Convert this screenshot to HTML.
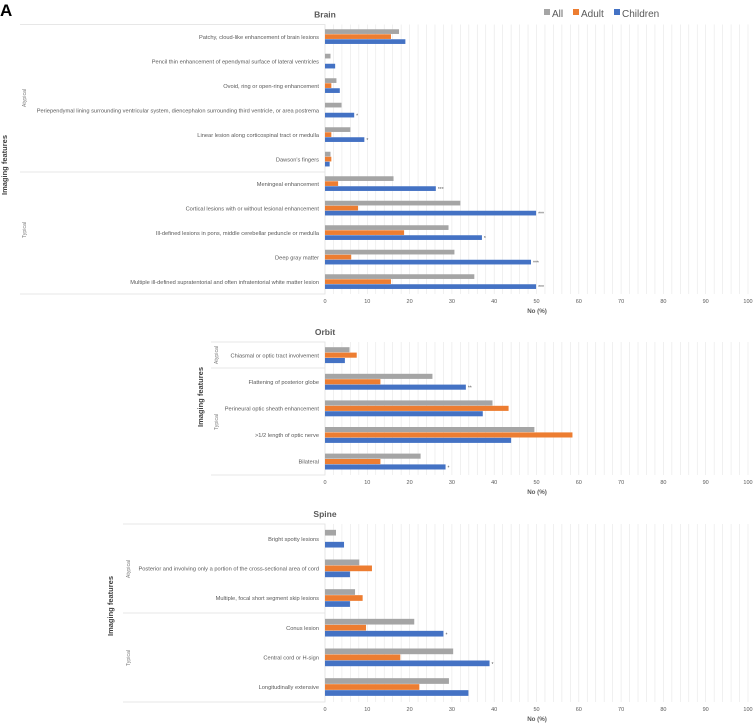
<!DOCTYPE html>
<html><head><meta charset="utf-8"><style>
html,body{margin:0;padding:0;background:#fff;}
svg{display:block;font-family:"Liberation Sans",sans-serif;}
</style></head><body>
<svg id="chart" width="755" height="726" viewBox="0 0 755 726" xmlns="http://www.w3.org/2000/svg">
<text x="0" y="16" font-size="17" font-weight="bold" fill="#000">A</text>
<g>
<rect x="544" y="9" width="6" height="6" fill="#a5a5a5"/>
<text x="552" y="17" font-size="10" fill="#595959">All</text>
<rect x="573" y="9" width="6" height="6" fill="#ed7d31"/>
<text x="581" y="17" font-size="10" fill="#595959">Adult</text>
<rect x="614" y="9" width="6" height="6" fill="#4472c4"/>
<text x="622" y="17" font-size="10" fill="#595959">Children</text>
</g>
</svg>
<script>
const brainCategories=["Patchy, cloud-like enhancement of brain lesions","Pencil thin enhancement of ependymal surface of lateral ventricles","Ovoid, ring or open-ring enhancement","Periependymal lining surrounding ventricular system, diencephalon surrounding third ventricle, or area postrema","Linear lesion along corticospinal tract or medulla","Dawson's fingers","Meningeal enhancement","Cortical lesions with or without lesional enhancement","Ill-defined lesions in pons, middle cerebellar peduncle or medulla","Deep gray matter","Multiple ill-defined supratentorial and often infratentorial white matter lesion"];
const brainAll=[17.5,1.3,2.7,3.9,6.0,1.3,16.2,32.0,29.2,30.6,35.3];
const brainAdult=[15.6,0,1.5,0,1.5,1.5,3.1,7.8,18.7,6.2,15.6];
const brainChildren=[19.0,2.4,3.5,6.9,9.3,1.1,26.2,49.9,37.1,48.7,49.9];
const brainSig=["","","","*","*","","***","***","*","***","***"];
const orbitCategories=["Chiasmal or optic tract involvement","Flattening of posterior globe","Perineural optic sheath enhancement",">1/2 length of optic nerve","Bilateral"];
const orbitAll=[5.8,25.4,39.6,49.5,22.6];
const orbitAdult=[7.5,13.1,43.4,58.5,13.1];
const orbitChildren=[4.7,33.3,37.3,44.0,28.5];
const orbitSig=["","**","","","*"];
const spineCategories=["Bright spotty lesions","Posterior  and involving only a portion of the cross-sectional area of cord","Multiple, focal short segment skip lesions","Conus lesion","Central cord or H-sign","Longitudinally extensive"];
const spineAll=[2.6,8.1,7.1,21.1,30.3,29.3];
const spineAdult=[0,11.1,8.9,9.7,17.8,22.3];
const spineChildren=[4.5,5.9,5.9,28.0,38.9,33.9];
const spineSig=["","","","*","*",""];
const tickLabels=["0","10","20","30","40","50","60","70","80","90","100"];

const NS="http://www.w3.org/2000/svg";
const svg=document.getElementById('chart');
function mk(tag,attrs,parent,text){const e=document.createElementNS(NS,tag);for(const k in attrs)e.setAttribute(k,attrs[k]);if(text!==undefined)e.textContent=text;(parent||svg).appendChild(e);return e;}

function panel(p){
  const g=mk('g',{});
  
  
  const x0=325,x1=748;
  const xs=v=>x0+(x1-x0)*v/100;
  const n=p.cats.length;
  const rowH=(p.bottom-p.top)/n;
  const ys=i=>p.top+rowH*(i+0.5);
  for(let v=2;v<=100;v+=2){
    const l=mk('line',{x1:xs(v),x2:xs(v),y1:p.top,y2:p.bottom,stroke:'#e6e6e6','stroke-width':0.6},g);
    
    
  }
  const box=mk('path',{d:`M${p.boxLeft},${p.top} H${x0} V${p.bottom} H${p.boxLeft} M${p.boxLeft},${p.sep} H${x0}`,fill:'none',stroke:'#e0e0e0','stroke-width':0.8},g);
  
  
  const t=mk('text',{x:x0,y:p.top-7,'font-size':8.5,'font-weight':'bold',fill:'#595959','text-anchor':'middle'},g,p.title);
  
  
  const series=[[p.all,'#a5a5a5','all'],[p.adult,'#ed7d31','adult'],[p.children,'#4472c4','children']];
  for(let i=0;i<n;i++){
    const cy=ys(i);
    const lab=mk('text',{x:319,y:cy+2,'font-size':5.7,fill:'#595959','text-anchor':'end'},g,p.cats[i]);
    
    
    series.forEach((s,k)=>{
      const y=cy-1.5*p.bh+k*p.bh;
      const r=mk('rect',{x:x0,y:y,width:Math.max(0,xs(s[0][i])-x0),height:p.bh-0.3,fill:s[1]},g);
      
      
    });
    if(p.sig[i]){
      const st=mk('text',{x:xs(p.children[i])+2,y:cy+1.5*p.bh-0.3,'font-size':5,fill:'#595959'},g,p.sig[i]);
      
      
    }
  }
  tickLabels.forEach((tl,j)=>{
    const tx=mk('text',{x:xs(j*10),y:p.bottom+9,'font-size':5.5,fill:'#595959','text-anchor':'middle'},g,tl);
    
    
  });
  if(p.showNo){
    const nt=mk('text',{x:537,y:p.bottom+19,'font-size':6.2,'font-weight':'bold',fill:'#595959','text-anchor':'middle'},g,'No (%)');
    
    
  }
  const yt=mk('text',{x:0,y:0,'font-size':7.5,'font-weight':'bold',fill:'#404040','text-anchor':'middle',transform:`translate(${p.ytX},${p.ytY}) rotate(-90)`},g,'Imaging features');
  
  
  [['Atypical',p.atY],['Typical',p.tyY]].forEach(a=>{
    const gt=mk('text',{x:0,y:0,'font-size':5.2,fill:'#7f7f7f','text-anchor':'middle',transform:`translate(${p.grpX},${a[1]}) rotate(-90)`},g,a[0]);
    
    
  });
}
panel({name:'brain',title:'Brain',cats:brainCategories,all:brainAll,adult:brainAdult,children:brainChildren,sig:brainSig,top:24.5,bottom:294,sep:172,boxLeft:20,bh:5,ytX:7,ytY:165,grpX:26,atY:98,tyY:230,showNo:true});
panel({name:'orbit',title:'Orbit',cats:orbitCategories,all:orbitAll,adult:orbitAdult,children:orbitChildren,sig:orbitSig,top:342,bottom:475,sep:368,boxLeft:211,bh:5.4,ytX:203,ytY:397,grpX:218,atY:355,tyY:422,showNo:true});
panel({name:'spine',title:'Spine',cats:spineCategories,all:spineAll,adult:spineAdult,children:spineChildren,sig:spineSig,top:524,bottom:702,sep:613,boxLeft:123,bh:6,ytX:113,ytY:606,grpX:130,atY:569,tyY:658,showNo:true});
</script>
</body></html>
